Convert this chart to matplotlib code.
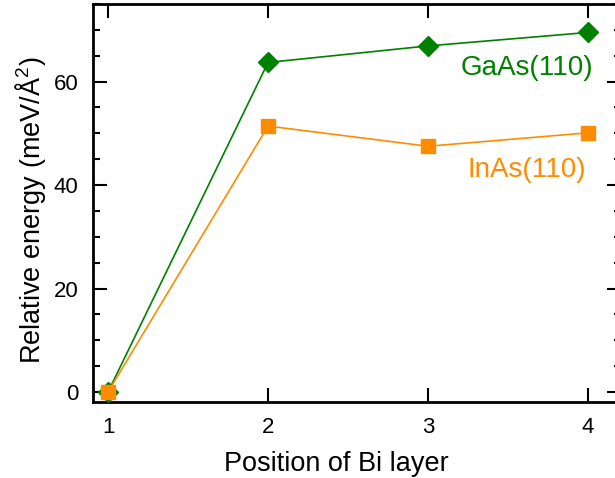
import numpy as np
import matplotlib
matplotlib.use('Agg')
import matplotlib.pyplot as plt
from matplotlib.ticker import MultipleLocator

plt.rcParams['font.family'] = ['Liberation Sans', 'DejaVu Sans']
plt.rcParams['mathtext.fontset'] = 'custom'
plt.rcParams['mathtext.rm'] = 'Liberation Sans'
plt.rcParams['mathtext.it'] = 'Liberation Sans'
plt.rcParams['mathtext.bf'] = 'Liberation Sans'

# data
position = [1, 2, 3, 4]
gaas = [0.0, 63.7, 66.9, 69.5]
inas = [0.0, 51.4, 47.5, 50.1]

green = '#008000'
orange = '#ff8c00'

fig = plt.figure(figsize=(6.15, 4.78), dpi=100)
# the right spine sits just outside the picture, as in the reference
ax = fig.add_axes([93/615, 1 - 402/478, (621 - 93)/615, (402 - 4)/478])

ax.plot(position, gaas, color=green, lw=1.2, marker='D', ms=10.5, zorder=3)
ax.plot(position, inas, color=orange, lw=1.2, marker='s', ms=9.5, zorder=4)

ax.text(3.619, 62.6, 'GaAs(110)', color=green, fontsize=20, ha='center', va='center')
ax.text(3.616, 43.0, 'InAs(110)', color=orange, fontsize=20, ha='center', va='center')

ax.set_xlim(0.906, 4.206)
ax.set_ylim(-1.94, 75.0)
ax.set_xticks(position)
ax.yaxis.set_major_locator(MultipleLocator(20))
ax.yaxis.set_minor_locator(MultipleLocator(5))

ax.tick_params(which='both', direction='in', top=True, right=True, width=1.5,
               labelsize=16, pad=10.5)
ax.tick_params(which='major', length=10)
ax.tick_params(which='minor', length=5)
ax.tick_params(axis='x', which='minor', bottom=False, top=False)
for s in ax.spines.values():
    s.set_linewidth(2)

fig.text(336/615, 1 - 471/478, 'Position of Bi layer', fontsize=19.5,
         ha='center', va='baseline')
fig.text(31/615, 1 - 210/478, 'Relative energy (meV/Å$^2$)', fontsize=19.5,
         rotation=90, ha='center', va='center')

fig.savefig('out.png', dpi=100)
